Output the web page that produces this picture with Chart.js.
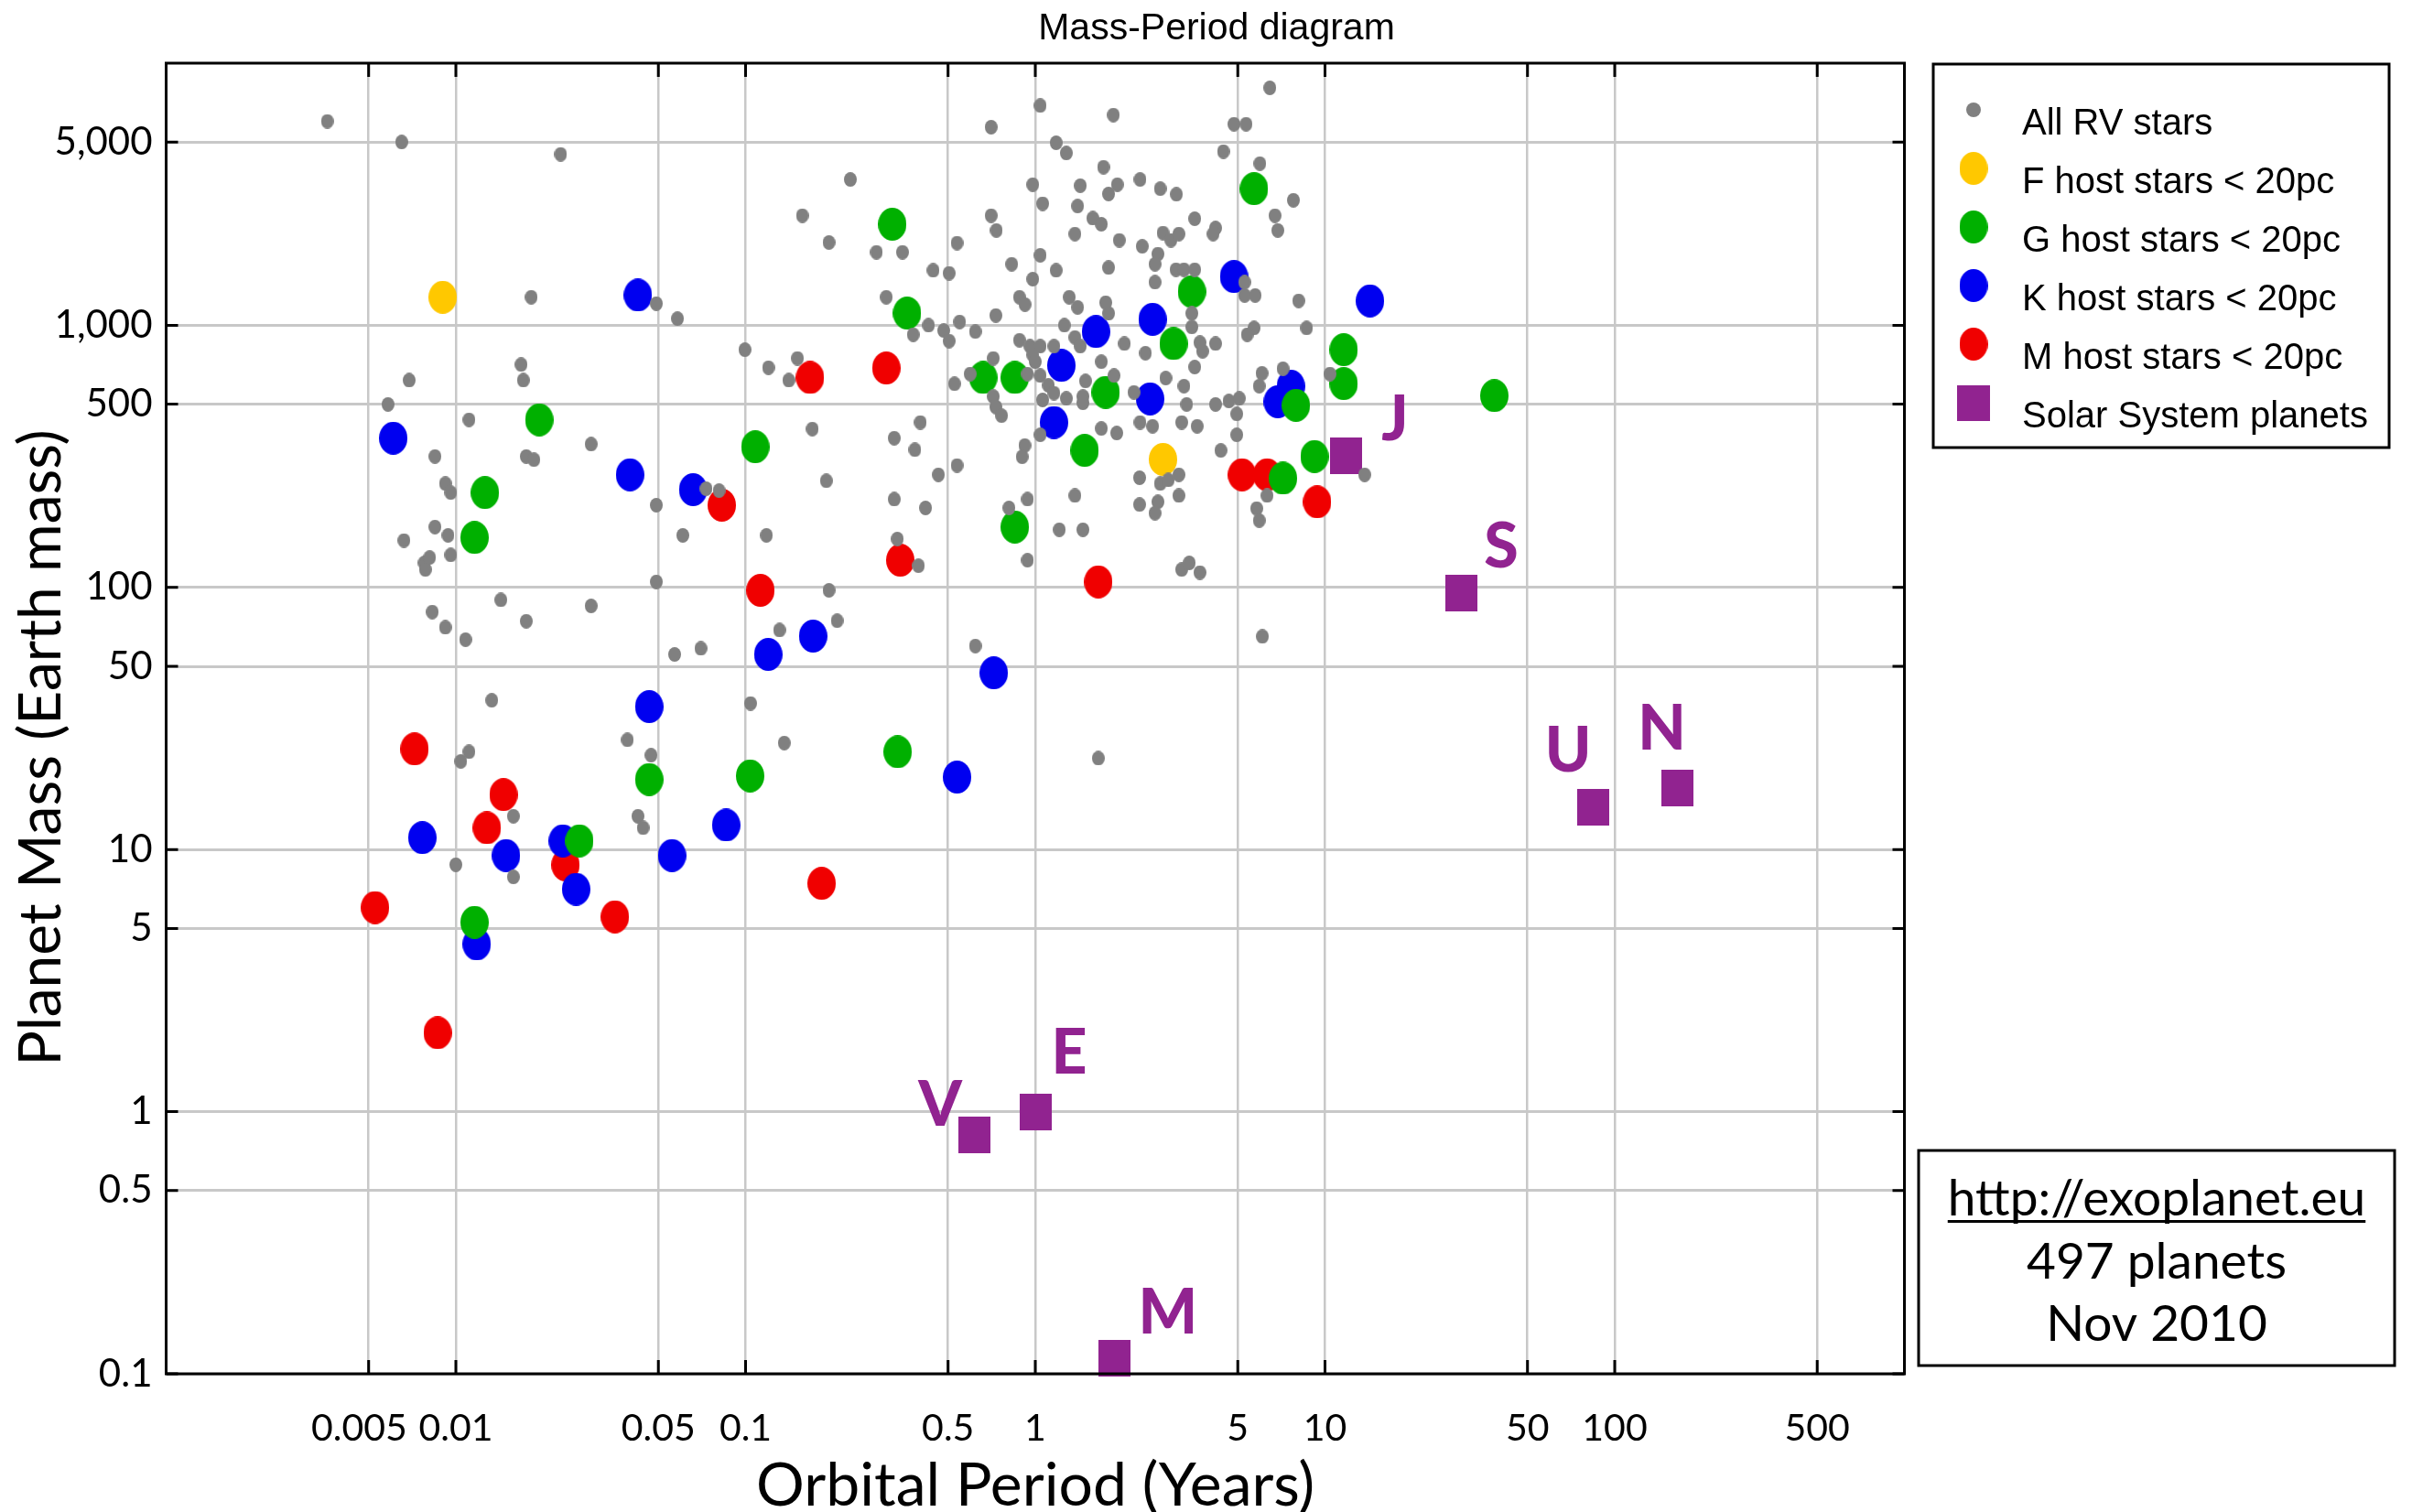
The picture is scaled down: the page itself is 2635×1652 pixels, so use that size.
<!DOCTYPE html>
<html>
<head>
<meta charset="utf-8">
<title>Mass-Period diagram</title>
<script src="https://cdn.jsdelivr.net/npm/chart.js@4.4.0/dist/chart.umd.min.js"></script>
<style>
  html, body { margin: 0; padding: 0; background: #fff; }
  #wrap { width: 2635px; height: 1652px; }
</style>
</head>
<body>
<div id="wrap"><canvas id="chart" width="2635" height="1652"></canvas></div>
<script>
// Orbital period (years), planet mass (Earth masses)
const rvStars = [
  [0.0036, 6000], [0.0065, 5000], [0.023, 4490], [0.157, 2620], [0.194, 2070], [0.0182, 1280],
  [0.0492, 1210], [0.0582, 1060], [0.0995, 807], [0.0168, 708], [0.12, 689], [0.151, 748],
  [0.0069, 617], [0.0171, 617], [0.141, 617], [0.00583, 499], [0.0111, 436], [0.0293, 352],
  [0.17, 402], [0.00847, 316], [0.0175, 316], [0.0186, 307], [0.0092, 249], [0.0096, 230],
  [0.0492, 206], [0.0731, 238], [0.081, 234], [0.19, 255], [0.00847, 170], [0.0094, 158],
  [0.00662, 151], [0.0607, 158], [0.118, 158], [0.00778, 124], [0.00812, 130], [0.00785, 117],
  [0.0096, 133], [0.0492, 105], [0.0143, 89.6], [0.0293, 85], [0.00829, 80.6], [0.0092, 70.4],
  [0.0175, 74.3], [0.0108, 63.2], [0.0569, 55.5], [0.0701, 58.5], [0.131, 68.7], [0.0133, 37.1],
  [0.104, 36.1], [0.0391, 26.2], [0.136, 25.5], [0.0111, 23.6], [0.0104, 21.7], [0.0472, 22.9],
  [0.0158, 13.4], [0.0425, 13.4], [0.0443, 12.1], [0.01, 8.75], [0.0158, 7.86], [0.194, 97.5],
  [6.45, 8050], [1.04, 6890], [0.704, 5700], [1.86, 6340], [4.85, 5850], [5.34, 5850],
  [1.18, 4970], [1.28, 4540], [4.46, 4600], [5.96, 4140], [1.72, 4010], [0.23, 3600],
  [0.98, 3440], [1.43, 3410], [1.92, 3440], [1.79, 3170], [2.3, 3600], [2.7, 3320],
  [3.07, 3160], [7.78, 3000], [1.06, 2910], [1.4, 2850], [0.704, 2620], [6.72, 2620],
  [1.58, 2560], [1.69, 2430], [3.55, 2550], [0.734, 2300], [6.87, 2300], [4.19, 2350],
  [4.11, 2230], [2.76, 2250], [2.94, 2110], [3.13, 2230], [1.37, 2230], [1.95, 2110],
  [0.537, 2060], [0.283, 1900], [0.348, 1900], [2.34, 2000], [2.65, 1870], [1.04, 1850],
  [0.444, 1620], [0.504, 1580], [0.829, 1710], [1.79, 1660], [2.59, 1710], [1.18, 1620],
  [3.06, 1630], [3.26, 1630], [3.55, 1630], [0.98, 1500], [2.59, 1460], [5.28, 1460],
  [0.306, 1280], [0.882, 1280], [0.921, 1200], [1.31, 1280], [5.28, 1300], [5.74, 1300],
  [8.11, 1240], [1.4, 1170], [1.75, 1220], [1.79, 1110], [3.47, 1110], [0.731, 1090],
  [0.379, 921], [0.428, 1000], [0.483, 955], [0.548, 1030], [0.504, 871], [0.621, 946],
  [1.26, 1000], [3.47, 985], [8.64, 976], [5.69, 976], [5.39, 921], [0.882, 877],
  [0.959, 832], [1.04, 832], [1.16, 832], [1.37, 899], [1.43, 832], [2.03, 851],
  [3.7, 859], [4.19, 851], [3.78, 796], [2.4, 783], [0.716, 748], [0.98, 771],
  [1.0, 726], [1.69, 726], [3.55, 693], [7.16, 683], [6.06, 656], [5.93, 586],
  [10.4, 652], [0.526, 598], [0.596, 652], [0.94, 652], [1.04, 643], [1.49, 613],
  [1.87, 643], [2.82, 629], [3.26, 586], [1.11, 590], [1.16, 551], [1.06, 519],
  [1.28, 526], [1.46, 535], [0.716, 535], [0.731, 488], [1.46, 506], [2.19, 555],
  [3.33, 499], [4.19, 499], [4.66, 514], [5.06, 526], [4.96, 459], [0.765, 452],
  [0.401, 426], [1.04, 382], [1.69, 404], [1.91, 388], [2.3, 426], [2.54, 412],
  [3.2, 426], [3.62, 412], [4.96, 382], [0.326, 371], [0.384, 335], [0.92, 348],
  [0.901, 315], [4.37, 333], [0.537, 292], [0.463, 269], [2.29, 262], [2.7, 249],
  [2.88, 257], [3.13, 269], [13.7, 269], [0.326, 217], [0.418, 201], [0.94, 217],
  [0.811, 201], [1.37, 224], [2.29, 207], [2.65, 212], [2.59, 192], [3.13, 224],
  [5.81, 200], [5.93, 180], [6.31, 224], [1.21, 166], [1.46, 166], [0.334, 153],
  [0.395, 121], [0.94, 127], [3.2, 117], [3.4, 124], [3.7, 114], [0.207, 74.6],
  [0.621, 59.8], [6.08, 65.0], [1.65, 22.3]
];
const fHosts = [[0.00901, 1280], [2.76, 308]];
const gHosts = [
  [0.0194, 436], [0.108, 344], [0.0126, 230], [0.0116, 155], [0.0465, 18.5], [0.1037, 19.1],
  [0.0267, 10.8], [0.0116, 5.28], [5.69, 3320], [0.321, 2430], [3.47, 1345], [0.361, 1113],
  [3.0, 851], [11.6, 807], [0.661, 632], [0.85, 632], [11.6, 599], [7.94, 495],
  [1.75, 555], [38.4, 539], [1.48, 333], [9.2, 316], [7.16, 261], [0.85, 170], [0.335, 23.6]
];
const kHosts = [
  [0.0425, 1304], [0.00608, 371], [0.0399, 269], [0.0659, 236], [0.171, 65.2], [0.1197, 55.5],
  [0.0465, 35.1], [0.00766, 11.1], [0.0234, 10.8], [0.0857, 12.4], [0.0149, 9.49], [0.0557, 9.49],
  [0.026, 7.06], [0.0118, 4.36], [4.85, 1534], [14.3, 1239], [2.54, 1054], [1.62, 946],
  [1.23, 703], [7.62, 586], [6.87, 511], [2.49, 524], [1.16, 426], [0.719, 47.2], [0.537, 18.9]
];
const mHosts = [
  [0.167, 632], [0.0828, 206], [0.1125, 97.5], [0.0072, 24.2], [0.0146, 16.2], [0.0128, 12.1],
  [0.0239, 8.74], [0.183, 7.43], [0.00526, 6.01], [0.0354, 5.54], [0.00865, 2.0], [0.306, 687],
  [0.342, 127], [5.17, 269], [6.31, 269], [9.4, 212], [1.65, 105]
];
// Venus, Earth, Mars, Jupiter, Saturn, Uranus, Neptune
const solarSystem = [[0.615, 0.815], [1.0, 1.0], [1.88, 0.115], [11.86, 317.8], [29.46, 95.2], [84.0, 14.5], [164.8, 17.1]];
const planetLetters = ['V', 'E', 'M', 'J', 'S', 'U', 'N'];

const seriesNames = ['All RV stars', 'F host stars < 20pc', 'G host stars < 20pc', 'K host stars < 20pc', 'M host stars < 20pc', 'Solar System planets'];
const xTickValues = [0.005, 0.01, 0.05, 0.1, 0.5, 1, 5, 10, 50, 100, 500];
const xTickLabels = ['0.005', '0.01', '0.05', '0.1', '0.5', '1', '5', '10', '50', '100', '500'];
const yTickValues = [0.1, 0.5, 1, 5, 10, 50, 100, 500, 1000, 5000];
const yTickLabels = ['0.1', '0.5', '1', '5', '10', '50', '100', '500', '1,000', '5,000'];
const infoLines = ['http://exoplanet.eu', '497 planets', 'Nov 2010'];

// styling
const colors = ['#808080', '#ffc800', '#00b000', '#0000f0', '#f00000', '#912390'];
// letter offsets from each planet square (px)
const letterOffsets = [[-37, -34], [37, -66], [58, -51], [53, -41], [44, -52], [-27, -63], [-17, -66]];

function ellipseMark(color, w, h) {
  const c = document.createElement('canvas');
  c.width = w; c.height = h;
  const g = c.getContext('2d');
  g.fillStyle = color;
  g.beginPath();
  g.ellipse(w / 2, h / 2, w / 2, h / 2, 0, 0, Math.PI * 2);
  g.fill();
  return c;
}
function rectMark(color, w, h) {
  const c = document.createElement('canvas');
  c.width = w; c.height = h;
  const g = c.getContext('2d');
  g.fillStyle = color;
  g.fillRect(0, 0, w, h);
  return c;
}

const marks = [
  ellipseMark(colors[0], 14, 16),
  ellipseMark(colors[1], 31, 36),
  ellipseMark(colors[2], 31, 36),
  ellipseMark(colors[3], 31, 36),
  ellipseMark(colors[4], 31, 36),
  rectMark(colors[5], 35, 40)
];
const legendMarks = [
  ellipseMark(colors[0], 16, 16),
  marks[1], marks[2], marks[3], marks[4],
  rectMark(colors[5], 36, 39)
];

const toPoints = arr => arr.map(p => ({ x: p[0], y: p[1] }));
const seriesData = [rvStars, fHosts, gHosts, kHosts, mHosts, solarSystem];

const datasets = seriesData.map((arr, i) => ({
  label: seriesNames[i],
  data: toPoints(arr),
  pointStyle: marks[i],
  pointRadius: 16,
  pointHoverRadius: 16,
  backgroundColor: colors[i],
  borderColor: colors[i],
  clip: false
}));

// frame with inward tick marks, drawn over the points
const framePlugin = {
  id: 'frame',
  afterDatasetsDraw(chart) {
    const { ctx, chartArea: a, scales: { x, y } } = chart;
    ctx.save();
    ctx.strokeStyle = '#000';
    ctx.lineWidth = 3;
    ctx.strokeRect(a.left, a.top, a.right - a.left, a.bottom - a.top);
    ctx.beginPath();
    xTickValues.forEach(v => {
      const px = x.getPixelForValue(v);
      ctx.moveTo(px, a.top); ctx.lineTo(px, a.top + 15);
      ctx.moveTo(px, a.bottom); ctx.lineTo(px, a.bottom - 15);
    });
    yTickValues.forEach(v => {
      const py = y.getPixelForValue(v);
      ctx.moveTo(a.left, py); ctx.lineTo(a.left + 13, py);
      ctx.moveTo(a.right, py); ctx.lineTo(a.right - 13, py);
    });
    ctx.stroke();
    ctx.restore();
  }
};

// title, axis titles, legend box, info box and planet letters
const textPlugin = {
  id: 'texts',
  afterDraw(chart) {
    const { ctx, chartArea: a } = chart;
    ctx.save();
    ctx.fillStyle = '#000';

    ctx.font = '41px "Liberation Sans", Arial, sans-serif';
    ctx.textAlign = 'center';
    ctx.textBaseline = 'alphabetic';
    ctx.fillText('Mass-Period diagram', 1329, 43);

    ctx.font = '66px Lato, sans-serif';
    ctx.fillText('Orbital Period (Years)', (a.left + a.right) / 2, 1645);
    ctx.font = '64px Lato, sans-serif';
    ctx.save();
    ctx.translate(66, 817);
    ctx.rotate(-Math.PI / 2);
    ctx.fillText('Planet Mass (Earth mass)', 0, 0);
    ctx.restore();

    // legend
    ctx.lineWidth = 3;
    ctx.strokeStyle = '#000';
    ctx.strokeRect(2112, 70, 498, 419);
    ctx.font = '40px "Liberation Sans", Arial, sans-serif';
    ctx.textAlign = 'left';
    seriesNames.forEach((name, i) => {
      const cy = 120 + i * 64;
      const m = legendMarks[i];
      ctx.drawImage(m, 2156 - m.width / 2, cy - m.height / 2);
      ctx.fillText(name, 2209, cy + 27);
    });

    // source box
    ctx.strokeRect(2096, 1257, 520, 235);
    ctx.font = '55px Lato, sans-serif';
    ctx.textAlign = 'center';
    const cx = 2356;
    const bases = [1328, 1397, 1465];
    infoLines.forEach((t, i) => ctx.fillText(t, cx, bases[i]));
    const w = ctx.measureText(infoLines[0]).width;
    ctx.fillRect(cx - w / 2, 1333, w, 3);

    // planet letters
    const meta = chart.getDatasetMeta(5);
    ctx.fillStyle = colors[5];
    ctx.font = '900 68px Lato, sans-serif';
    meta.data.forEach((pt, i) => {
      const [dx, dy] = letterOffsets[i];
      ctx.fillText(planetLetters[i], pt.x + dx, pt.y + dy + 24);
    });
    ctx.restore();
  }
};

const ctx = document.getElementById('chart').getContext('2d');
const chart = new Chart(ctx, {
  type: 'scatter',
  data: { datasets: datasets },
  options: {
    responsive: false,
    animation: false,
    events: [],
    layout: { padding: { left: 0, top: 69, right: 554.5, bottom: 0 } },
    plugins: {
      legend: { display: false },
      tooltip: { enabled: false },
      title: { display: false }
    },
    scales: {
      x: {
        type: 'logarithmic',
        min: 0.001,
        max: 1000,
        afterBuildTicks: s => { s.ticks = xTickValues.map(v => ({ value: v })); },
        afterFit: s => { s.height = 151; },
        ticks: {
          autoSkip: false,
          maxRotation: 0,
          padding: 35,
          color: '#000',
          font: { family: 'Lato', size: 41 },
          // first label sits a little left of its grid line so it clears "0.01"
          callback: (v, i) => (i === 0 ? xTickLabels[i] + '\u2002' : xTickLabels[i])
        },
        grid: { color: '#c8c8c8', lineWidth: 2.5, drawTicks: false },
        border: { display: false }
      },
      y: {
        type: 'logarithmic',
        min: 0.1,
        max: 10000,
        afterBuildTicks: s => { s.ticks = yTickValues.map(v => ({ value: v })); },
        afterFit: s => { s.width = 181.5; },
        ticks: {
          autoSkip: false,
          padding: 15,
          color: '#000',
          font: { family: 'Lato', size: 42 },
          callback: (v, i) => yTickLabels[i]
        },
        grid: { color: '#c8c8c8', lineWidth: 3, drawTicks: false },
        border: { display: false }
      }
    }
  },
  plugins: [framePlugin, textPlugin]
});
</script>
</body>
</html>
